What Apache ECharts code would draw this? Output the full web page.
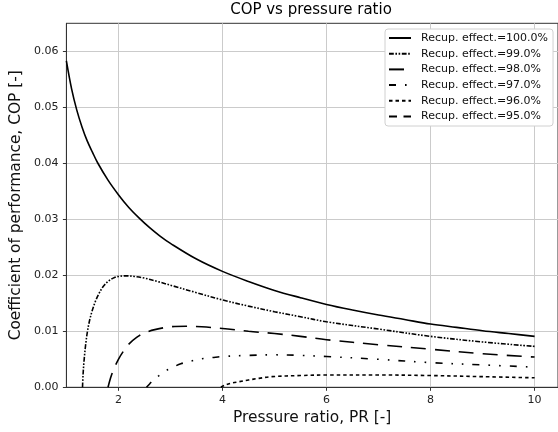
<!DOCTYPE html>
<html><head><meta charset="utf-8">
<script src="https://cdn.jsdelivr.net/npm/echarts@6/dist/echarts.min.js"></script>
<style>html,body{margin:0;padding:0;background:#fff}#c{width:558px;height:432px}</style>
</head><body><div id="c"></div>
<script>
// ---- data ----
const seriesNames = ['Recup. effect.=100.0%','Recup. effect.=99.0%','Recup. effect.=98.0%','Recup. effect.=97.0%','Recup. effect.=96.0%','Recup. effect.=95.0%'];

const pr100  = [1.0,1.1,1.2,1.3,1.4,1.5,1.6,1.8,2.0,2.2,2.4,2.6,2.8,3.0,3.5,4.0,4.5,5.0,5.5,6.0,6.5,7.0,7.5,8.0,8.5,9.0,9.5,10.0];
const cop100 = [0.0583,0.0533,0.0495,0.0465,0.0440,0.0420,0.0401,0.0370,0.0344,0.0321,0.0302,0.0285,0.0270,0.0257,0.0229,0.0207,0.0189,0.0173,0.0160,0.0148,0.0138,0.0129,0.0121,0.0113,0.0107,0.0101,0.0096,0.0091];

const pr99  = [1.31,1.32,1.34,1.37,1.405,1.45,1.5,1.56,1.63,1.7,1.8,1.9,2.0,2.15,2.3,2.5,2.75,3.05,3.5,4.0,4.5,5.0,5.5,6.0,7.0,8.0,9.0,10.0];
const cop99 = [0.0,0.0022,0.0048,0.0076,0.0100,0.0121,0.0138,0.0154,0.0168,0.0179,0.0189,0.0195,0.0198,0.0199,0.0198,0.0195,0.0189,0.0181,0.0169,0.0156,0.0145,0.0135,0.0126,0.0117,0.0104,0.0091,0.0081,0.0073];

const pr98  = [1.80,1.85,1.9,2.0,2.1,2.2,2.35,2.5,2.7,3.0,3.3,3.6,4.0,4.5,5.0,5.5,6.0,7.0,8.0,9.0,10.0];
const cop98 = [0.0,0.0017,0.0030,0.0050,0.0065,0.0077,0.0089,0.0097,0.0103,0.0108,0.0109,0.0108,0.0105,0.0100,0.0096,0.0091,0.0085,0.0076,0.0068,0.0060,0.0054];

const pr97  = [2.54,2.6,2.67,2.78,2.9,3.05,3.2,3.4,3.6,3.8,4.0,4.5,5.0,5.5,6.0,7.0,8.0,9.0,10.0];
const cop97 = [0.0,0.0006,0.0013,0.0021,0.0029,0.0036,0.0042,0.0047,0.0051,0.0053,0.0055,0.0057,0.0058,0.0057,0.0055,0.0050,0.0044,0.0040,0.0036];

const pr96  = [3.97,4.05,4.15,4.32,4.5,4.7,4.95,5.5,6.0,7.0,8.0,9.0,10.0];
const cop96 = [0.0,0.0004,0.0007,0.0010,0.0013,0.0016,0.0019,0.0021,0.0022,0.0022,0.0021,0.0019,0.0017];

const pr95  = [];
const cop95 = [];

const xTicks = [2,4,6,8,10];
const yTicks = [0,0.01,0.02,0.03,0.04,0.05,0.06];

// ---- styles ----
const prSets  = [pr100, pr99, pr98, pr97, pr96, pr95];
const copSets = [cop100, cop99, cop98, cop97, cop96, cop95];
const dashes  = ['solid', [4.8,1.6,1.6,1.6,1.6,1.6], [15,9], [7,9,1.6,9,1.6,9], [3.5,3], [8,6.5]];

const chart = echarts.init(document.getElementById('c'), null, {renderer:'canvas'});
const FONT = 'DejaVu Sans';

const series = seriesNames.map((name, i) => ({
  name: name,
  type: 'line',
  data: prSets[i].map((x, j) => [x, copSets[i][j]]),
  showSymbol: false,
  symbol: 'none',
  smooth: 0.35,
  lineStyle: {color: '#000', width: 1.6, type: dashes[i]},
  itemStyle: {color: '#000'},
  emphasis: {disabled: true},
  animation: false
}));

chart.setOption({
  animation: false,
  textStyle: {fontFamily: FONT},
  title: {
    text: 'COP vs pressure ratio',
    left: 311, top: 3, padding: 0,
    textAlign: 'center',
    textStyle: {fontFamily: FONT, fontSize: 15, fontWeight: 'normal', color: '#000'}
  },
  grid: {
    left: 62.2, top: 23.3, right: -1.7, bottom: 44.7,
    show: true, borderColor: '#333', borderWidth: 1, backgroundColor: 'transparent'
  },
  legend: {
    orient: 'vertical',
    left: 385, top: 29,
    padding: [3.5, 5, 4, 3],
    itemWidth: 22, itemHeight: 12, itemGap: 4.7,
    backgroundColor: '#fff',
    borderColor: '#d0d0d0', borderWidth: 1, borderRadius: 3,
    itemStyle: {color: 'rgba(0,0,0,0)', borderWidth: 0, opacity: 0},
    textStyle: {fontFamily: FONT, fontSize: 11, color: '#111', padding: [0,0,0,5]},
    data: seriesNames
  },
  xAxis: {
    type: 'value', min: 1, max: 10.45,
    name: 'Pressure ratio, PR [-]', nameLocation: 'middle', nameGap: 21,
    nameTextStyle: {fontFamily: FONT, fontSize: 15.4, color: '#111'},
    axisLine: {show: true, lineStyle: {color: '#333', width: 1}},
    axisTick: {show: true, length: 3.5, inside: false, customValues: xTicks, lineStyle: {color: '#333'}},
    axisLabel: {customValues: xTicks, margin: 7, fontFamily: FONT, fontSize: 11, color: '#222'},
    splitLine: {show: true, lineStyle: {color: '#cbcbcb', width: 1}}
  },
  yAxis: {
    type: 'value', min: 0, max: 0.065,
    name: 'Coefficient of performance, COP [-]', nameLocation: 'middle', nameGap: 39,
    nameTextStyle: {fontFamily: FONT, fontSize: 15.4, color: '#111'},
    axisLine: {show: true, lineStyle: {color: '#333', width: 1}},
    axisTick: {show: true, length: 3.5, inside: false, customValues: yTicks, lineStyle: {color: '#333'}},
    axisLabel: {customValues: yTicks, margin: 8, fontFamily: FONT, fontSize: 11, color: '#222',
                formatter: v => v.toFixed(2)},
    splitLine: {show: true, lineStyle: {color: '#cbcbcb', width: 1}}
  },
  series: series
});
</script>
</body></html>
